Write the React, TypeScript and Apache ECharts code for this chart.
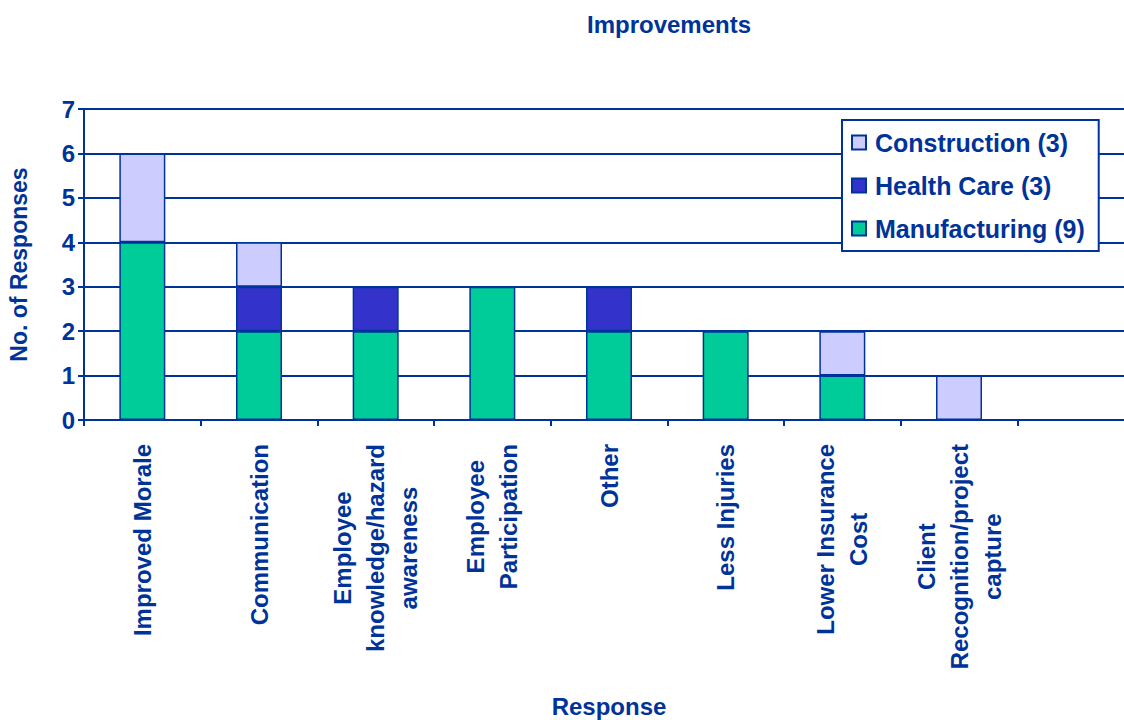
import React, { useEffect, useRef } from "react";
import * as echarts from "echarts";

const categories = [
  "Improved Morale",
  "Communication",
  "Employee\nknowledge/hazard\nawareness",
  "Employee\nParticipation",
  "Other",
  "Less Injuries",
  "Lower Insurance\nCost",
  "Client\nRecognition/project\ncapture",
  "",
];
const manufacturing = [4, 2, 2, 3, 2, 2, 1, 0, 0];
const healthCare = [0, 1, 1, 0, 1, 0, 0, 0, 0];
const construction = [2, 1, 0, 0, 0, 0, 1, 1, 0];
const yTicks = [0, 1, 2, 3, 4, 5, 6, 7];

const NAVY = "#003399";
const FONT = "'Liberation Sans', Arial, sans-serif";

export default function App() {
  const ref = useRef<HTMLDivElement>(null);
  useEffect(() => {
    if (!ref.current) return;
    const chart = echarts.init(ref.current, undefined, { renderer: "svg" });
    const clean = (arr: number[]) => arr.map((v) => (v === 0 ? null : v));
    const barStyle = (color: string) => ({
      color,
      borderColor: NAVY,
      borderWidth: 1.5,
    });
    chart.setOption({
      animation: false,
      backgroundColor: "#ffffff",
      textStyle: { fontFamily: FONT },
      title: {
        text: "Improvements",
        left: 664,
        top: 7,
        textAlign: "center",
        textStyle: { color: NAVY, fontSize: 24, fontWeight: "bold", fontFamily: FONT },
      },
      legend: {
        orient: "vertical",
        left: 842,
        top: 120,
        data: ["Construction (3)", "Health Care (3)", "Manufacturing (9)"],
        backgroundColor: "#ffffff",
        borderColor: NAVY,
        borderWidth: 2,
        borderRadius: 0,
        padding: [10, 14, 10, 9],
        itemGap: 18,
        itemWidth: 14,
        itemHeight: 14,
        icon: "rect",
        textStyle: {
          color: NAVY,
          fontSize: 25,
          fontWeight: "bold",
          fontFamily: FONT,
          padding: [0, 0, 0, 4],
        },
      },
      grid: {
        left: 84,
        top: 109,
        height: 311,
        width: 1050,
        containLabel: false,
        outerBoundsMode: "none",
      },
      xAxis: {
        type: "category",
        data: categories,
        name: "Response",
        nameLocation: "middle",
        nameGap: 274,
        nameTextStyle: { color: NAVY, fontSize: 24, fontWeight: "bold", fontFamily: FONT },
        axisLine: { show: true, lineStyle: { color: NAVY, width: 2 } },
        axisTick: { show: true, length: 6, alignWithLabel: false, lineStyle: { color: NAVY, width: 2 } },
        axisLabel: {
          interval: 0,
          rotate: 90,
          margin: 24,
          formatter: (v: string) =>
            v === "" ? "" : v.split("\n").map((l) => `{c|${l}}`).join("\n"),
          rich: {
            c: {
              color: NAVY,
              fontSize: 24,
              fontWeight: "bold",
              fontFamily: FONT,
              align: "center",
              lineHeight: 33,
            },
          },
        },
      },
      yAxis: {
        type: "value",
        min: yTicks[0],
        max: yTicks[yTicks.length - 1],
        interval: 1,
        name: "No. of Responses",
        nameLocation: "middle",
        nameGap: 54,
        nameTextStyle: { color: NAVY, fontSize: 23, fontWeight: "bold", fontFamily: FONT },
        axisLine: { show: true, lineStyle: { color: NAVY, width: 2 } },
        axisTick: { show: true, length: 6, lineStyle: { color: NAVY, width: 2 } },
        axisLabel: {
          color: NAVY,
          fontSize: 24,
          fontWeight: "bold",
          fontFamily: FONT,
          margin: 9,
        },
        splitLine: { show: true, lineStyle: { color: NAVY, width: 2 } },
      },
      series: [
        {
          name: "Manufacturing (9)",
          type: "bar",
          stack: "total",
          barWidth: 46,
          data: clean(manufacturing),
          itemStyle: barStyle("#00CC99"),
        },
        {
          name: "Health Care (3)",
          type: "bar",
          stack: "total",
          barWidth: 46,
          data: clean(healthCare),
          itemStyle: barStyle("#3333CC"),
        },
        {
          name: "Construction (3)",
          type: "bar",
          stack: "total",
          barWidth: 46,
          data: clean(construction),
          itemStyle: barStyle("#CCCCFF"),
        },
      ],
    });
    return () => chart.dispose();
  }, []);
  return (
    <div
      ref={ref}
      style={{ position: "absolute", left: 0, top: 0, width: 1124, height: 720 }}
    />
  );
}
